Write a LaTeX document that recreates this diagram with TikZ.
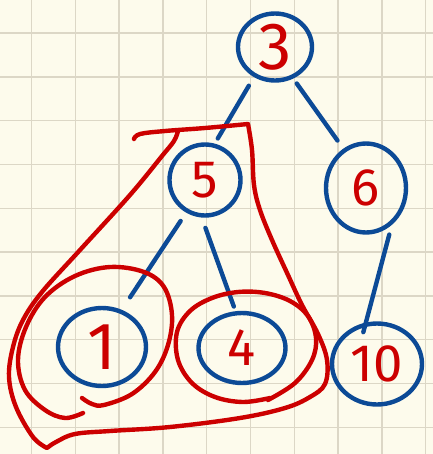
\documentclass[tikz,border=0pt]{standalone}
\usepackage{fontspec}
\newfontfamily\handfont{Fira Sans}
\usepackage{tikz}
\usetikzlibrary{shapes.geometric}
\definecolor{paper}{HTML}{FDFBEC}
\definecolor{gridline}{HTML}{DCD7C6}
\definecolor{penblue}{HTML}{0C4A96}
\definecolor{penred}{HTML}{CC0000}
\tikzset{
  % --- tree nodes and links (blue pen) ---
  treenode/.style={ellipse, draw=penblue, line width=2.5pt, inner sep=0pt,
                   text=penred, font=\handfont\fontsize{30}{30}\selectfont},
  bigdigit/.style={font=\handfont\fontsize{38}{38}\selectfont},
  treeedge/.style={draw=penblue, line width=2.5pt, line cap=round},
  % --- marks (red pen) ---
  redpen/.style={draw=penred, line width=2.5pt, line cap=round, line join=round},
  gridrule/.style={draw=gridline, line width=0.8pt},
}

\begin{document}
\begin{tikzpicture}[x=0.02cm, y=-0.02cm]
  % paper
  \fill[paper] (0,0) rectangle (433,454);
  \useasboundingbox (0,0) rectangle (433,454);
  \foreach \k in {0,...,9} {
    \draw[gridrule] ({31.5+43.8*\k},0) -- ({31.5+43.8*\k},454);
    \draw[gridrule] (0,{33+43.8*\k}) -- (433,{33+43.8*\k});
  }
  % nodes
  \node[treenode, bigdigit, minimum width=1.48cm, minimum height=1.34cm] (n3) at (275,47) {3};
  \node[treenode, minimum width=1.42cm, minimum height=1.42cm] (n5) at (205,180) {5};
  \node[treenode, minimum width=1.6cm, minimum height=1.78cm] (n6) at (366,188) {6};
  \node[treenode, bigdigit, minimum width=1.76cm, minimum height=1.56cm] (n1) at (102,347) {1};
  \node[treenode, minimum width=1.74cm, minimum height=1.4cm] (n4) at (242,348) {4};
  \node[treenode, minimum width=1.8cm, minimum height=1.62cm] (n10) at (377,364) {10};
  % links
  \draw[treeedge, shorten <=0.2cm, shorten >=0.12cm] (n3.235) -- (n5.75);
  \draw[treeedge, shorten <=0.12cm, shorten >=0.2cm] (n3.300) -- (n6.120);
  \draw[treeedge, shorten <=0.2cm, shorten >=0.3cm] (n5.240) -- (n1.62);
  \draw[treeedge, shorten <=0.22cm, shorten >=0.1cm] (n5.265) -- (n4.100);
  \draw[treeedge, shorten <=0.2cm, shorten >=-0.2cm] (n6.305) -- (n10.105);
  % red marks
  \draw[redpen] plot[smooth, tension=0.6] coordinates {(268,400) (295,383) (312,360) (316,338) (308,316) (290,301) (265,293) (238,292) (212,298) (190,311) (177,332) (178,360) (192,383) (215,397) (243,402) (270,398)};
  \draw[redpen] plot[smooth, tension=0.6] coordinates {(82,398) (92,404) (104,405) (132,394) (155,372) (168,345) (172,315) (164,287) (144,272) (110,267) (75,276) (45,297) (26,327) (18,360) (25,390) (45,410) (65,418) (83,413)};
  \draw[redpen] plot[smooth, tension=0.6] coordinates {(134,139) (140,134) (165,131) (205,128) (248,124)}
    -- plot[smooth, tension=0.6] coordinates {(248,124) (252,150) (254,185) (260,210) (272,240) (288,275) (302,305) (318,334) (327,360) (325,384) (310,397) (285,408) (240,418) (170,427) (110,431) (75,434) (56,442) (47,448)}
    -- plot[smooth, tension=0.6] coordinates {(47,448) (33,437) (16,407) (9,377) (13,347) (23,320) (42,292) (80,250) (130,195) (162,156) (174,141) (178,131)};
\end{tikzpicture}
\end{document}
